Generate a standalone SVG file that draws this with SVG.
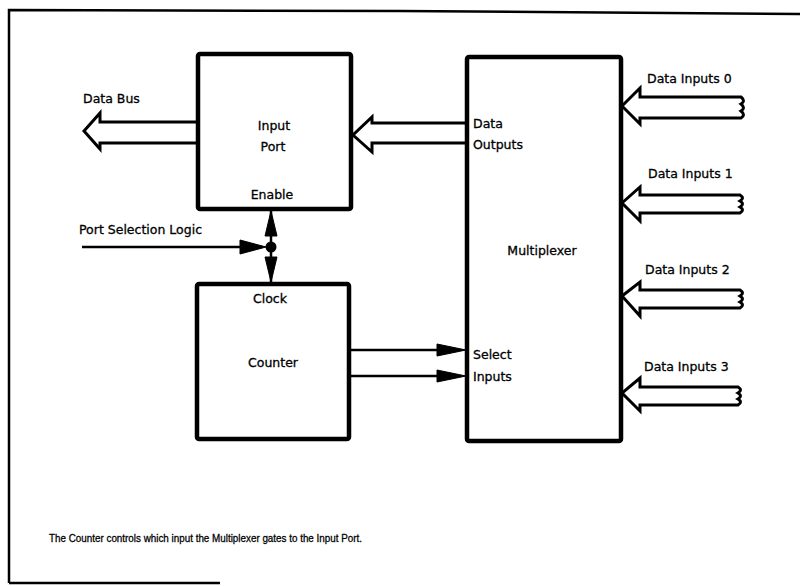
<svg xmlns="http://www.w3.org/2000/svg" width="800" height="586" viewBox="0 0 800 586">
<style>
text{font-family:"DejaVu Sans","Liberation Sans",sans-serif;font-size:12.5px;fill:#000;stroke:#000;stroke-width:0.3}
.box{fill:#fff;stroke:#000;stroke-width:4.5}
.hollow{fill:#fff;stroke:#000;stroke-width:3;stroke-linejoin:miter}
.line{fill:none;stroke:#000;stroke-width:2.5}
.head{fill:#000;stroke:#000;stroke-width:1}
.frame{fill:none;stroke:#000;stroke-width:2.5}
.mid{text-anchor:middle}
.cap{font-family:"Liberation Sans","DejaVu Sans",sans-serif;font-size:11.5px}
</style>
<rect width="800" height="586" fill="#fff"/>
<g id="frame">
<path class="frame" d="M9,583 L9,10 L400,11 L800,14"/>
<path class="frame" d="M9,583 L220,583"/>
</g>
<g id="connectors">
<path id="data-bus" class="hollow" d="M198,122 L100,122 L100,113 L84,131 L100,149 L100,143 L198,143"/>
<path id="data-outputs" class="hollow" d="M467,123 L372,123 L372,117 L353,135 L372,152 L372,143 L467,143"/>
<path id="in0" class="hollow" d="M741,97 L640,97 L640,88 L622,106 L640,124 L640,118 L741,118 Q746,115 741,111 Q746,108 741,104 Q746,101 741,97 Z"/>
<path id="in1" class="hollow" d="M740,195 L640,195 L640,187 L622,203 L640,221 L640,213 L740,213 Q745,210 740,207 Q745,204 740,201 Q745,198 740,195 Z"/>
<path id="in2" class="hollow" d="M740,290 L640,290 L640,282 L622,296 L640,316 L640,308 L740,308 Q745,305 740,302 Q745,299 740,296 Q745,293 740,290 Z"/>
<path id="in3" class="hollow" d="M738,387 L640,387 L640,378 L622,393 L640,411 L640,405 L738,405 Q743,402 738,399 Q743,396 738,393 Q743,390 738,387 Z"/>
<path class="line" d="M82,247 L262,247"/>
<polygon class="head" points="240,240 266,247 240,254"/>
<path class="line" d="M271,211 L271,282"/>
<polygon class="head" points="271,211 277,236 265,236"/>
<polygon class="head" points="271,282 277,257 265,257"/>
<circle cx="271" cy="247" r="5.5" fill="#000"/>
<path class="line" d="M349,350 L440,350"/>
<polygon class="head" points="437,344 466,350 437,356"/>
<path class="line" d="M349,376 L440,376"/>
<polygon class="head" points="437,370 466,376 437,382"/>
</g>
<g id="input-port">
<rect class="box" x="198" y="54" width="153" height="155" rx="2"/>
<text class="mid" x="274" y="130">Input</text>
<text class="mid" x="273" y="151">Port</text>
<text class="mid" x="272" y="199">Enable</text>
</g>
<g id="counter">
<rect class="box" x="197" y="284" width="152" height="155" rx="2"/>
<text class="mid" x="270" y="303">Clock</text>
<text class="mid" x="273" y="367">Counter</text>
</g>
<g id="multiplexer">
<rect class="box" x="467" y="57" width="154" height="384" rx="2"/>
<text x="473" y="128">Data</text>
<text x="473" y="149">Outputs</text>
<text class="mid" x="542" y="255">Multiplexer</text>
<text x="473" y="359">Select</text>
<text x="473" y="381">Inputs</text>
</g>
<g id="labels">
<text x="83" y="103">Data Bus</text>
<text x="79" y="234">Port Selection Logic</text>
<text x="647" y="83">Data Inputs 0</text>
<text x="648" y="178">Data Inputs 1</text>
<text x="645" y="274">Data Inputs 2</text>
<text x="644" y="371">Data Inputs 3</text>
<text class="cap" x="49" y="542" textLength="313" lengthAdjust="spacingAndGlyphs">The Counter controls which input the Multiplexer gates to the Input Port.</text>
</g>
</svg>
